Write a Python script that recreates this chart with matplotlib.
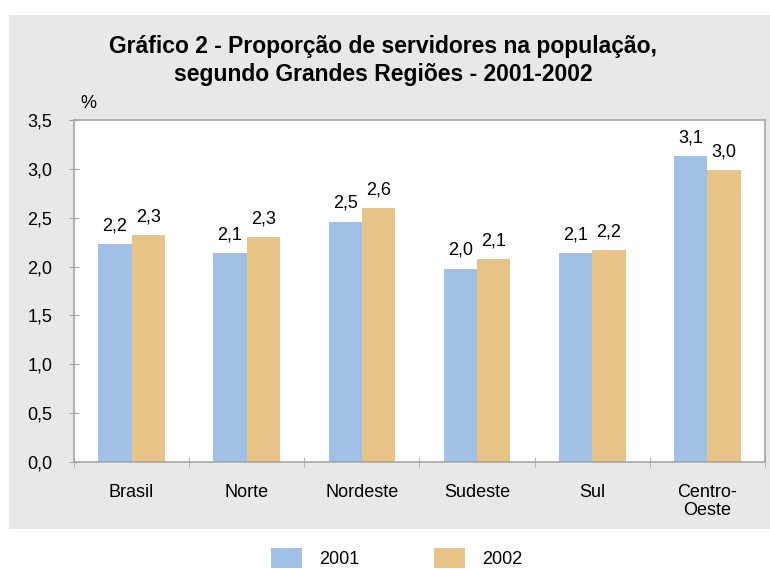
import numpy as np
import matplotlib.pyplot as plt
from matplotlib.patches import Rectangle, Patch

regioes = ["Brasil", "Norte", "Nordeste", "Sudeste", "Sul", "Centro-\nOeste"]
v2001 = [2.23, 2.14, 2.46, 1.98, 2.14, 3.13]
v2002 = [2.32, 2.30, 2.60, 2.08, 2.17, 2.99]
rot2001 = ["2,2", "2,1", "2,5", "2,0", "2,1", "3,1"]
rot2002 = ["2,3", "2,3", "2,6", "2,1", "2,2", "3,0"]
yticks = [0.0, 0.5, 1.0, 1.5, 2.0, 2.5, 3.0, 3.5]

fonte = "Liberation Sans"
c01 = "#a0c0e6"
c02 = "#e8c387"
grid_gray = "#a6a6a6"

fig = plt.figure(figsize=(7.7, 5.69), dpi=100, facecolor="white")
W, H = 770, 569
# painel cinza
fig.patches.append(Rectangle((9 / W, (H - 529) / H), 1 - 9 / W, (529 - 15) / H,
                             transform=fig.transFigure, facecolor="#e8e8e8",
                             edgecolor="none", zorder=-10))

ax = fig.add_axes([74 / W, (H - 462) / H, (765 - 74) / W, (462 - 120) / H])
ax.set_facecolor("white")

x = np.arange(len(regioes))
w = 0.29
ax.bar(x - w / 2, v2001, w, color=c01)
ax.bar(x + w / 2, v2002, w, color=c02)

for i in range(len(regioes)):
    ax.annotate(rot2001[i], (x[i] - w / 2, v2001[i]), xytext=(0, 7),
                textcoords="offset points", ha="center", va="bottom",
                fontsize=13, family=fonte)
    ax.annotate(rot2002[i], (x[i] + w / 2, v2002[i]), xytext=(0, 7),
                textcoords="offset points", ha="center", va="bottom",
                fontsize=13, family=fonte)

ax.set_xlim(-0.5, len(regioes) - 0.5)
ax.set_ylim(0, 3.5)
ax.set_yticks(yticks)
ax.set_yticklabels([f"{v:.1f}".replace(".", ",") for v in yticks],
                   fontsize=13, family=fonte)
ax.set_xticks(x)
ax.set_xticklabels(regioes, fontsize=13, family=fonte, linespacing=1.05, va="top")
ax.set_xticks(np.arange(-0.5, len(regioes), 1.0), minor=True)
ax.tick_params(axis="x", which="major", length=0, pad=16)
ax.tick_params(axis="x", which="minor", length=7, color=grid_gray, direction="inout")
ax.tick_params(axis="y", length=7, color=grid_gray, direction="inout", pad=12)
for s in ax.spines.values():
    s.set_color(grid_gray)
    s.set_linewidth(1.2)

fig.text(80 / W, 1 - 103 / H, "%", fontsize=13, family=fonte, ha="left", va="center")
fig.text(383 / W, 1 - 46 / H, "Gráfico 2 - Proporção de servidores na população,",
         fontsize=16.5, fontweight="bold", family=fonte, ha="center", va="center")
fig.text(383 / W, 1 - 75 / H, "segundo Grandes Regiões - 2001-2002",
         fontsize=16.5, fontweight="bold", family=fonte, ha="center", va="center")

handles = [Patch(facecolor=c01, edgecolor="none"), Patch(facecolor=c02, edgecolor="none")]
fig.legend(handles, ["2001", "2002"], loc="center", bbox_to_anchor=(0.515, 1 - 558 / H),
           ncol=2, frameon=False, handlelength=1.75, handleheight=1.4,
           handletextpad=0.95, columnspacing=4.1, prop={"family": fonte, "size": 13})

fig.savefig("out.png", dpi=100)
